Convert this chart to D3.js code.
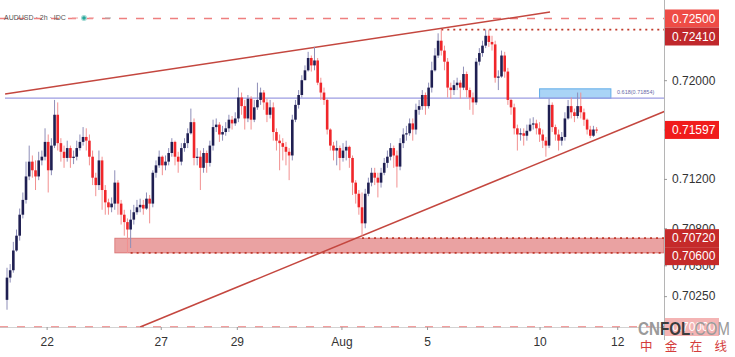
<!DOCTYPE html>
<html><head><meta charset="utf-8">
<script src="https://cdn.jsdelivr.net/npm/d3@7"></script>
<style>body{margin:0;background:#fff;} svg{display:block;font-family:"Liberation Sans",Arial,sans-serif;}</style>
</head><body><svg id="c" width="735" height="357"></svg>
<script>
// ---- data (AUD/USD, 2h candles) ----
const firstOpen = 0.7022;
const close = [
.7040,.7046,.7062,.7074,.7091,.7103,.7122,.7134,.7127,.7122,
.7135,.7138,.7150,.7127,.7147,.7172,.7149,.7142,.7137,.7145,
.7137,.7138,.7145,.7150,.7154,.7151,.7138,.7121,.7115,.7135,
.7111,.7101,.7097,.7100,.7117,.7100,.7091,.7085,.7079,.7087,
.7093,.7097,.7099,.7096,.7104,.7100,.7125,.7131,.7138,.7131,
.7134,.7141,.7150,.7138,.7134,.7145,.7149,.7157,.7166,.7137,
.7138,.7129,.7141,.7133,.7147,.7162,.7164,.7156,.7158,.7161,
.7168,.7165,.7169,.7186,.7179,.7169,.7185,.7168,.7178,.7184,
.7190,.7182,.7172,.7178,.7158,.7151,.7149,.7146,.7142,.7139,
.7168,.7180,.7188,.7200,.7208,.7218,.7212,.7216,.7198,.7190,
.7184,.7160,.7147,.7143,.7145,.7137,.7143,.7146,.7137,.7117,
.7108,.7097,.7084,.7108,.7117,.7125,.7121,.7117,.7125,.7133,
.7138,.7145,.7139,.7130,.7149,.7156,.7157,.7165,.7160,.7176,
.7179,.7188,.7179,.7194,.7208,.7220,.7232,.7224,.7215,.7194,
.7192,.7196,.7198,.7194,.7205,.7192,.7186,.7182,.7215,.7222,
.7228,.7236,.7231,.7229,.7202,.7203,.7220,.7207,.7184,.7178,
.7161,.7156,.7157,.7155,.7159,.7164,.7165,.7161,.7156,.7151,
.7147,.7180,.7162,.7156,.7151,.7154,.7169,.7179,.7174,.7171,
.7179,.7174,.7168,.7160,.7155,.7160,.71597];
const high = [
.7048,.7051,.7069,.7079,.7096,.7109,.7134,.7147,.7139,.7135,
.7142,.7143,.7161,.7156,.7153,.7184,.7182,.7153,.7147,.7151,
.7147,.7143,.7151,.7156,.7162,.7161,.7156,.7143,.7125,.7143,
.7138,.7115,.7104,.7105,.7127,.7119,.7103,.7095,.7088,.7095,
.7099,.7103,.7104,.7103,.7109,.7107,.7127,.7135,.7143,.7139,
.7139,.7145,.7153,.7151,.7142,.7149,.7153,.7161,.7177,.7169,
.7145,.7143,.7145,.7143,.7151,.7168,.7169,.7166,.7163,.7166,
.7172,.7171,.7174,.7194,.7190,.7184,.7188,.7187,.7184,.7198,
.7194,.7192,.7185,.7184,.7182,.7161,.7156,.7153,.7150,.7145,
.7172,.7184,.7192,.7204,.7212,.7223,.7220,.7227,.7218,.7202,
.7194,.7185,.7161,.7150,.7151,.7147,.7149,.7151,.7147,.7139,
.7119,.7111,.7109,.7112,.7121,.7129,.7129,.7125,.7129,.7137,
.7143,.7149,.7147,.7143,.7153,.7161,.7163,.7169,.7169,.7181,
.7184,.7192,.7190,.7198,.7215,.7226,.7238,.7241,.7228,.7218,
.7198,.7200,.7202,.7200,.7211,.7207,.7194,.7190,.7218,.7226,
.7232,.7241,.7241,.7236,.7232,.7208,.7224,.7223,.7210,.7185,
.7181,.7164,.7161,.7161,.7164,.7169,.7170,.7168,.7166,.7160,
.7154,.7185,.7182,.7164,.7160,.7158,.7174,.7184,.7186,.7177,
.7190,.7190,.7177,.7169,.7163,.7163,.7162];
const low = [
.7014,.7036,.7044,.7061,.7070,.7088,.7100,.7119,.7121,.7111,
.7119,.7131,.7135,.7109,.7123,.7145,.7143,.7134,.7129,.7134,
.7129,.7132,.7135,.7143,.7147,.7143,.7131,.7115,.7106,.7111,
.7095,.7091,.7091,.7093,.7095,.7091,.7083,.7074,.7060,.7064,
.7083,.7091,.7093,.7091,.7095,.7084,.7097,.7121,.7129,.7123,
.7127,.7131,.7138,.7131,.7125,.7131,.7142,.7145,.7156,.7131,
.7131,.7111,.7125,.7125,.7130,.7143,.7158,.7150,.7151,.7155,
.7158,.7160,.7163,.7166,.7172,.7160,.7166,.7160,.7166,.7176,
.7180,.7176,.7166,.7169,.7151,.7143,.7127,.7135,.7131,.7119,
.7135,.7166,.7177,.7186,.7200,.7207,.7207,.7208,.7196,.7184,
.7180,.7156,.7143,.7135,.7131,.7127,.7134,.7135,.7129,.7107,
.7100,.7091,.7074,.7080,.7106,.7114,.7115,.7105,.7113,.7123,
.7129,.7135,.7129,.7113,.7127,.7145,.7151,.7155,.7151,.7156,
.7172,.7176,.7172,.7177,.7190,.7207,.7218,.7220,.7208,.7186,
.7185,.7188,.7192,.7185,.7192,.7186,.7176,.7172,.7180,.7212,
.7219,.7226,.7227,.7224,.7198,.7192,.7202,.7202,.7180,.7172,
.7156,.7143,.7151,.7147,.7151,.7158,.7160,.7156,.7150,.7145,
.7138,.7145,.7158,.7151,.7143,.7147,.7151,.7168,.7169,.7166,
.7169,.7169,.7163,.7156,.7153,.7154,.7157];

const xTickIndex  = [12.5, 48.5, 72.5, 105.5, 132.5, 168, 192.5];
const xTickLabels = ["22", "27", "29", "Aug", "5", "10", "12"];
const yTickValues = [0.7200, 0.7160, 0.7120, 0.7080, 0.7050, 0.7025];
const priceLabels = [0.72500, 0.72410, 0.71597, 0.70720, 0.70600, 0.70000];
const upperTrend = [[-0.6, 0.71888], [171.3, 0.72552]];
const lowerTrend = [[42, 0.70000], [207.5, 0.71748]];
const fibLevel = 0.71854;
const fibText = "0.618(0.71854)";
const fibZone = [168, 190.5, 0.71854, 0.71930];   // from idx, to idx, low, high
const supportZone = [34, 0.70600, 0.70720];        // from idx, low, high
const resistance = 0.72410, resistanceFrom = 137;
const supportTopFrom = 112, supportBotFrom = 39;
const roundTop = 0.72500, roundBottom = 0.70000;

// ---- layout ----
const W = 735, H = 357, PR = 664;
const svg = d3.select("#c");
const x = d3.scaleLinear().domain([0, close.length - 1]).range([7, 7 + 3.17 * (close.length - 1)]);
const y = d3.scaleLinear().domain([0.7000, 0.7250]).range([327, 18.5]);

svg.append("defs").append("clipPath").attr("id", "plot")
  .append("rect").attr("x", 0).attr("y", 0).attr("width", PR).attr("height", 332);
const plot = svg.append("g").attr("clip-path", "url(#plot)");

// support zone
plot.append("rect")
  .attr("x", x(supportZone[0])).attr("width", PR - x(supportZone[0]))
  .attr("y", y(supportZone[2])).attr("height", y(supportZone[1]) - y(supportZone[2]))
  .attr("fill", "rgba(214,70,70,0.5)").attr("stroke", "rgba(200,60,60,0.6)").attr("stroke-width", 0.8);

// fib zone
plot.append("rect")
  .attr("x", x(fibZone[0])).attr("width", x(fibZone[1]) - x(fibZone[0]))
  .attr("y", y(fibZone[3])).attr("height", y(fibZone[2]) - y(fibZone[3]))
  .attr("fill", "#a9d4f6").attr("stroke", "#62ade8").attr("stroke-width", 1);

// fib line
plot.append("line").attr("x1", 5).attr("x2", PR).attr("y1", y(fibLevel)).attr("y2", y(fibLevel))
  .attr("stroke", "#9c9ce2").attr("stroke-width", 1.2);
svg.append("text").attr("x", 617).attr("y", y(fibLevel) - 4).text(fibText)
  .attr("font-size", 5.5).attr("fill", "#6a6aa8");

// dashed round-number lines
[roundTop, roundBottom].forEach(v => {
  plot.append("line").attr("x1", 0).attr("x2", PR).attr("y1", y(v)).attr("y2", y(v))
    .attr("stroke", "#ee7f7f").attr("stroke-width", 1.6).attr("stroke-dasharray", "8,9");
});
// axis baseline
svg.append("line").attr("x1", 0).attr("x2", PR).attr("y1", 327.5).attr("y2", 327.5)
  .attr("stroke", "#c8c8c8").attr("stroke-width", 0.8);

// dotted levels
const dotted = (from, v) => plot.append("line")
  .attr("x1", x(from)).attr("x2", PR).attr("y1", y(v)).attr("y2", y(v))
  .attr("stroke", "#c0392b").attr("stroke-width", 1.8).attr("stroke-dasharray", "2,4");
dotted(resistanceFrom, resistance);
dotted(supportTopFrom, supportZone[2]);
dotted(supportBotFrom, supportZone[1]);

// trend lines
const tl = d3.line().x(d => x(d[0])).y(d => y(d[1]));
[upperTrend, lowerTrend].forEach(t => plot.append("path").attr("d", tl(t))
  .attr("fill", "none").attr("stroke", "#c4473f").attr("stroke-width", 1.5));

// candles
const candles = close.map((c, i) => {
  const o = i ? close[i - 1] : firstOpen;
  return {i, o, c, h: Math.max(high[i], o, c), l: Math.min(low[i], o, c)};
});
const cg = plot.append("g");
cg.selectAll("line.w").data(candles).join("line")
  .attr("x1", d => x(d.i)).attr("x2", d => x(d.i))
  .attr("y1", d => y(d.h)).attr("y2", d => y(d.l))
  .attr("stroke", d => d.c >= d.o ? "#8e8eb8" : "#f29090").attr("stroke-width", 1);
cg.selectAll("rect.b").data(candles).join("rect")
  .attr("x", d => x(d.i) - 1.3).attr("width", 2.6)
  .attr("y", d => y(Math.max(d.o, d.c)))
  .attr("height", d => Math.max(1, Math.abs(y(d.o) - y(d.c))))
  .attr("fill", d => d.c >= d.o ? "#1f1f52" : "#f0262a");

// right axis
svg.append("line").attr("x1", PR + 0.5).attr("x2", PR + 0.5).attr("y1", 0).attr("y2", 340)
  .attr("stroke", "#b5b5b5").attr("stroke-width", 1);
const ya = svg.append("g").attr("transform", `translate(${PR},0)`)
  .call(d3.axisRight(y).tickValues(yTickValues).tickFormat(d3.format(".5f")).tickSize(3).tickPadding(5));
ya.select(".domain").remove();
ya.selectAll("line").attr("stroke", "#999");
ya.selectAll("text").attr("font-size", 12).attr("fill", "#333").attr("font-family", "Liberation Sans, Arial, sans-serif");

// bottom axis
const xa = svg.append("g").attr("transform", "translate(0,327)")
  .call(d3.axisBottom(x).tickValues(xTickIndex).tickFormat((d, i) => xTickLabels[i]).tickSize(3).tickPadding(7));
xa.select(".domain").remove();
xa.selectAll("line").attr("stroke", "#999");
xa.selectAll("text").attr("font-size", 12).attr("fill", "#333").attr("font-family", "Liberation Sans, Arial, sans-serif");

// price label boxes
const boxColors = ["#ee4c46", "#c0282c", "#f01c1c", "#c52a2a", "#c52a2a", "#f4b4b4"];
let prevBottom = -Infinity;
const bh = 18;
priceLabels.forEach((v, k) => {
  let top = y(v) - bh / 2;
  if (top < prevBottom) top = prevBottom;
  prevBottom = top + bh;
  svg.append("rect").attr("x", PR + 1).attr("y", top).attr("width", 54).attr("height", bh)
    .attr("fill", boxColors[k]);
  svg.append("text").attr("x", 672).attr("y", top + bh / 2 + 4.3).text(d3.format(".5f")(v))
    .attr("font-size", 12).attr("fill", "#fff");
});

// legend
svg.append("text").attr("x", 4).attr("y", 20).text("AUDUSD · 2h · IDC")
  .attr("font-size", 7).attr("fill", "#555");
svg.append("line").attr("x1", 72).attr("x2", 78).attr("y1", 18).attr("y2", 18).attr("stroke", "#f2a0a0");
svg.append("circle").attr("cx", 84).attr("cy", 18).attr("r", 2.4).attr("fill", "#26a69a")
  .attr("stroke", "#a8dcd6").attr("stroke-width", 1.2);
svg.append("line").attr("x1", 89).attr("x2", 94).attr("y1", 18).attr("y2", 18).attr("stroke", "#f2a0a0");
svg.append("line").attr("x1", 105).attr("x2", 111).attr("y1", 18).attr("y2", 18).attr("stroke", "#aaa");

// watermark
const wm = svg.append("text").attr("x", 638).attr("y", 335).attr("font-size", 18)
  .attr("textLength", 92).attr("lengthAdjust", "spacingAndGlyphs");
wm.append("tspan").text("CN").attr("fill", "#9a9a9a").attr("font-weight", "bold");
wm.append("tspan").text("FOL").attr("fill", "#3c3c3c").attr("font-weight", "bold");
wm.append("tspan").text(".COM").attr("fill", "#9a9a9a");
svg.append("text").attr("x", 640).attr("y", 351).text("中金在线")
  .attr("font-family", "Noto Sans CJK SC").attr("font-size", 12.5)
  .attr("textLength", 87).attr("lengthAdjust", "spacing").attr("fill", "#d43c3c");
</script></body></html>
